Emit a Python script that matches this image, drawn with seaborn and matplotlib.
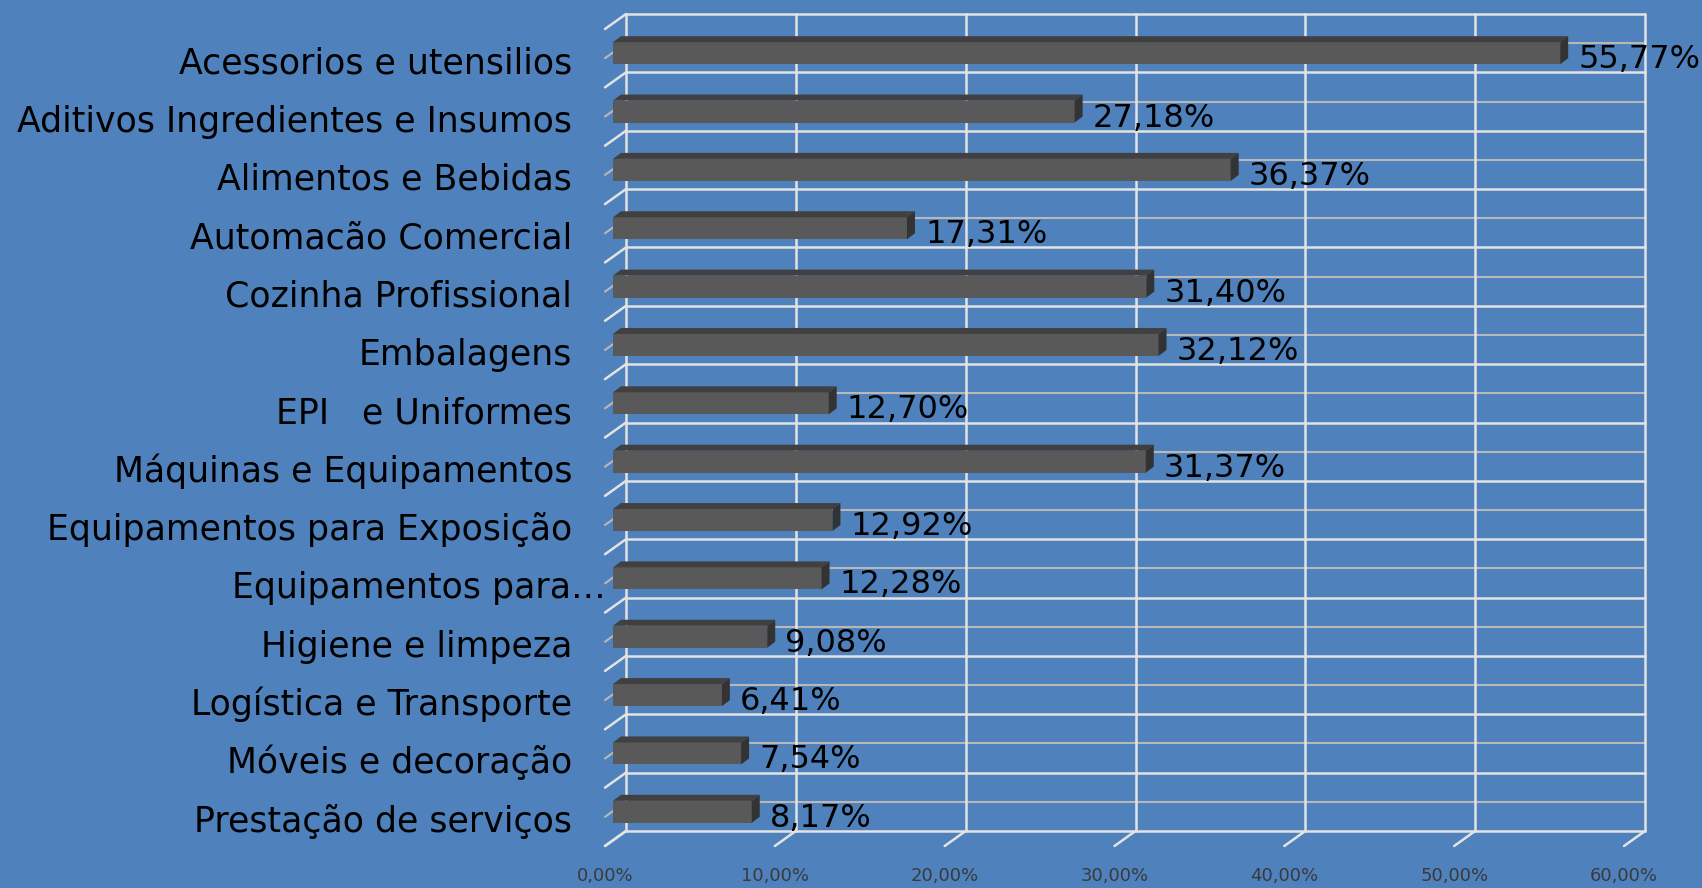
import numpy as np
import pandas as pd
import seaborn as sns
import matplotlib.pyplot as plt
from matplotlib.patches import Polygon

categories = ['Acessorios e utensilios', 'Aditivos Ingredientes e Insumos', 'Alimentos e Bebidas',
              'Automacão Comercial', 'Cozinha Profissional', 'Embalagens', 'EPI   e Uniformes',
              'Máquinas e Equipamentos', 'Equipamentos para Exposição', 'Equipamentos para…',
              'Higiene e limpeza', 'Logística e Transporte', 'Móveis e decoração', 'Prestação de serviços']
values = [55.77, 27.18, 36.37, 17.31, 31.40, 32.12, 12.70, 31.37, 12.92, 12.28, 9.08, 6.41, 7.54, 8.17]
ticks = [0, 10, 20, 30, 40, 50, 60]
tick_labels = ['0,00%', '10,00%', '20,00%', '30,00%', '40,00%', '50,00%', '60,00%']

BG = '#4F81BD'
GRID = '#E3E3E3'
GRID_MID = '#B8B8B8'

sns.set_style('white')
plt.rcParams['font.family'] = ['DejaVu Sans']

W, H = 1702, 888
fig = plt.figure(figsize=(W / 100, H / 100), dpi=100, facecolor=BG)
# back wall of the 3d plot in pixels
left_px, right_px, top_px, bot_px = 626, 1645, 14, 831
ax = fig.add_axes([left_px / W, 1 - bot_px / H, (right_px - left_px) / W, (bot_px - top_px) / H])
ax.set_facecolor('none')

n = len(categories)
xmax = ticks[-1]
ax.set_xlim(0, xmax)
ax.set_ylim(n - 0.5, -0.5)

# pixel -> data units
ux = xmax / (right_px - left_px)
uy = n / (bot_px - top_px)
floor_dx, floor_dy = -21 * ux, 15 * uy      # depth of the floor (front offset)
bar_dx, bar_dy = -13 * ux, 10 * uy          # bars sit near the front
side_dx, side_dy = 8 * ux, -6 * uy          # bar depth
bar_h = 22 * uy

# back wall grid
for t in ticks:
    ax.plot([t, t], [-0.5, n - 0.5], color=GRID, lw=1.8, zorder=1, clip_on=False)
    ax.plot([t, t + floor_dx], [n - 0.5, n - 0.5 + floor_dy], color=GRID, lw=1.8, zorder=1, clip_on=False)
for b in np.arange(-0.5, n, 1.0):
    ax.plot([0, xmax], [b, b], color=GRID, lw=1.8, zorder=1, clip_on=False)
    ax.plot([0, floor_dx], [b, b + floor_dy], color=GRID, lw=1.8, zorder=1, clip_on=False)
for c in range(n):
    ax.plot([0, xmax], [c, c], color=GRID_MID, lw=1.5, zorder=0.9, clip_on=False)
    ax.plot([0, floor_dx], [c, c + floor_dy], color=GRID_MID, lw=1.5, zorder=0.9, clip_on=False)

df = pd.DataFrame({'cat': categories, 'val': values})
sns.barplot(data=df, x='val', y='cat', orient='h', color='#595959', saturation=1,
            width=bar_h, ax=ax, zorder=3)

for p, v in zip(ax.patches, values):
    p.set_x(p.get_x() + bar_dx)
    p.set_y(p.get_y() + bar_dy)
    p.set_edgecolor('none')
    p.set_clip_on(False)
    x0, y0 = p.get_x(), p.get_y()
    x1, y1 = x0 + p.get_width(), y0 + p.get_height()
    top = Polygon([(x0, y0), (x0 + side_dx, y0 + side_dy), (x1 + side_dx, y0 + side_dy), (x1, y0)],
                  closed=True, facecolor='#404040', edgecolor='none', zorder=3, clip_on=False)
    side = Polygon([(x1, y0), (x1 + side_dx, y0 + side_dy), (x1 + side_dx, y1 + side_dy), (x1, y1)],
                   closed=True, facecolor='#333333', edgecolor='none', zorder=3, clip_on=False)
    ax.add_patch(top)
    ax.add_patch(side)
    ax.text(x1 + side_dx + 10 * ux, (y0 + y1) / 2 + 15 * uy, f'{v:.2f}%'.replace('.', ','),
            fontsize=23, color='black', ha='left', va='baseline', zorder=4)

for i, cat in enumerate(categories):
    xr = -54 * ux if not cat.endswith('…') else -20 * ux
    ax.text(xr, i + bar_dy + 20 * uy, cat, fontsize=25, color='black', ha='right', va='baseline')

for t, lab in zip(ticks, tick_labels):
    ax.text(t + floor_dx, n - 0.5 + 45 * uy, lab, fontsize=13, color='#3A3A3A', ha='center', va='center')

ax.set_xticks([])
ax.set_yticks([])
ax.set_xlabel('')
ax.set_ylabel('')
sns.despine(ax=ax, left=True, bottom=True)

fig.savefig('out.png', dpi=100, facecolor=BG)
